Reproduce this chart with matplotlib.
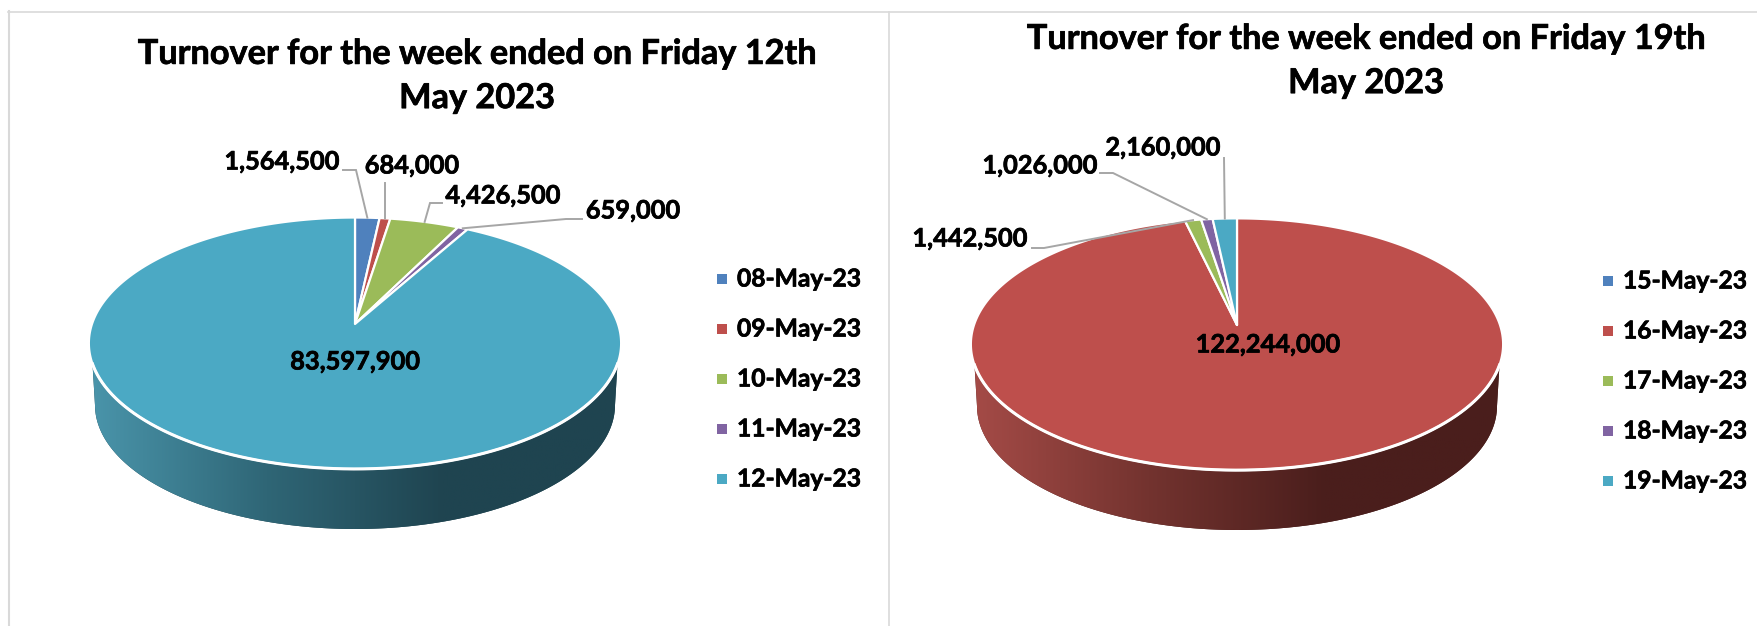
import numpy as np
import matplotlib
matplotlib.use("Agg")
import matplotlib.pyplot as plt
import matplotlib.patheffects as pe
from matplotlib.colors import LinearSegmentedColormap
from matplotlib.patches import Polygon, Rectangle

plt.rcParams['font.family'] = ['Lato', 'DejaVu Sans']

days_a = ["08-May-23", "09-May-23", "10-May-23", "11-May-23", "12-May-23"]
turnover_a = [1564500, 684000, 4426500, 659000, 83597900]
title_a = "Turnover for the week ended on Friday 12th\nMay 2023"

days_b = ["15-May-23", "16-May-23", "17-May-23", "18-May-23", "19-May-23"]
turnover_b = [0, 122244000, 1442500, 1026000, 2160000]
title_b = "Turnover for the week ended on Friday 19th\nMay 2023"

colors = ["#4F81BD", "#BE4F4C", "#9BBB59", "#8064A2", "#4BA9C4"]
grey = "#A6A6A6"
rule = "#D9D9D9"
fat = [pe.withStroke(linewidth=0.5, foreground="black")]

fig = plt.figure(figsize=(17.58, 6.26), dpi=100)
ax = fig.add_axes([0, 0, 1, 1])
ax.set_xlim(0, 1758)
ax.set_ylim(626, 0)
ax.axis("off")


# disc -> screen, a small perspective so the centre sits above the ellipse middle
def project(angle, r, cx, apex_y):
    u = r * np.sin(angle)
    v = r * np.cos(angle)
    w = 1 + 0.153 * v
    return cx + 263 * u / w, (apex_y - 73.2 * v) / w


def draw_pie(values, cx, apex_y, side_stops, side_color):
    total = sum(values)
    edges = np.cumsum([0] + values) / total * 2 * np.pi

    # side wall first
    t = np.linspace(np.pi / 2, 3 * np.pi / 2, 300)
    xt, yt = project(t, 1, cx, apex_y)
    keep = yt > apex_y + 39
    xb = cx + 260 * np.sin(t)
    yb = apex_y + 81 - 124 * np.cos(t)
    pts = np.vstack([np.c_[xt[keep], yt[keep]], np.c_[xb[::-1], yb[::-1]]])
    wall = Polygon(pts, closed=True, fc=side_color, ec="none", zorder=1)
    ax.add_patch(wall)
    cmap = LinearSegmentedColormap.from_list("wall", side_stops)
    im = ax.imshow(np.linspace(0, 1, 256).reshape(1, -1), cmap=cmap, aspect="auto",
                   extent=[cx - 266, cx + 266, apex_y + 210, apex_y + 20], zorder=2)
    im.set_clip_path(wall)

    # top face, one wedge per value
    ends = {}
    for i, val in enumerate(values):
        if val == 0:
            continue
        a = np.linspace(edges[i], edges[i + 1], max(3, int(val / total * 400)))
        xs, ys = project(a, 1, cx, apex_y)
        pts = np.vstack([[cx, apex_y], np.c_[xs, ys]])
        ax.add_patch(Polygon(pts, closed=True, fc=colors[i], ec="white", lw=1.6,
                             joinstyle="round", zorder=3))
        ends[i] = project((edges[i] + edges[i + 1]) / 2, 1, cx, apex_y)
    # brighter rim along the front
    ax.plot(xt[keep], yt[keep], color="white", lw=2.2, zorder=3.5)
    ax.set_xlim(0, 1758)
    ax.set_ylim(626, 0)
    return ends


def leader(end, *elbows):
    xs = [p[0] for p in elbows] + [end[0]]
    ys = [p[1] for p in elbows] + [end[1]]
    ax.plot(xs, ys, color=grey, lw=1.4, zorder=4, solid_joinstyle="miter")


def label(x, y, value):
    ax.text(x, y, f"{value:,}", ha="center", va="center", fontsize=18.3,
            fontweight="bold", color="black", zorder=5, path_effects=fat)


def legend(x, y0, days):
    for i, d in enumerate(days):
        y = y0 + i * 50
        ax.add_patch(Rectangle((x - 5, y - 5), 10, 10, fc=colors[i], ec="none"))
        ax.text(x + 15, y, d, ha="left", va="center", fontsize=17.7, fontweight="bold",
                color="black", path_effects=fat)


# frame rules
ax.plot([8.5, 1758], [11.5, 11.5], color=rule, lw=1.2)
ax.plot([9, 9], [11, 626], color=rule, lw=1.5)
ax.plot([889, 889], [11.5, 626], color=rule, lw=1.2)

# left chart
ax.text(477, 76, title_a, ha="center", va="center", fontsize=24.7, fontweight="bold",
        linespacing=1.47, path_effects=fat)
ends = draw_pie(turnover_a, 355, 324,
                ["#4A95AB", "#2F6676", "#1F4450", "#1F4450"], "#1F4450")
leader(ends[0], (343, 170), (356, 170))
leader(ends[1], (385, 183))
leader(ends[2], (442, 203), (430, 203))
leader(ends[3], (582, 219), (566, 219))
label(282, 162, turnover_a[0])
label(412, 166, turnover_a[1])
label(503, 196, turnover_a[2])
label(633, 211, turnover_a[3])
label(355, 362, turnover_a[4])
legend(722, 279, days_a)

# right chart
ax.text(1366, 61, title_b, ha="center", va="center", fontsize=24.7, fontweight="bold",
        linespacing=1.47, path_effects=fat)
ends = draw_pie(turnover_b, 1237, 325,
                ["#A54B47", "#73332F", "#4A1E1C", "#4A1E1C"], "#4A1E1C")
leader(ends[4], (1224, 158))
leader(ends[3], (1100, 173), (1113, 173))
leader(ends[2], (1032, 248), (1044, 248))
label(1163, 148, turnover_b[4])
label(1040, 166, turnover_b[3])
label(970, 239, turnover_b[2])
label(1268, 345, turnover_b[1])
legend(1608, 281, days_b)

plt.savefig("out.png", dpi=100)
